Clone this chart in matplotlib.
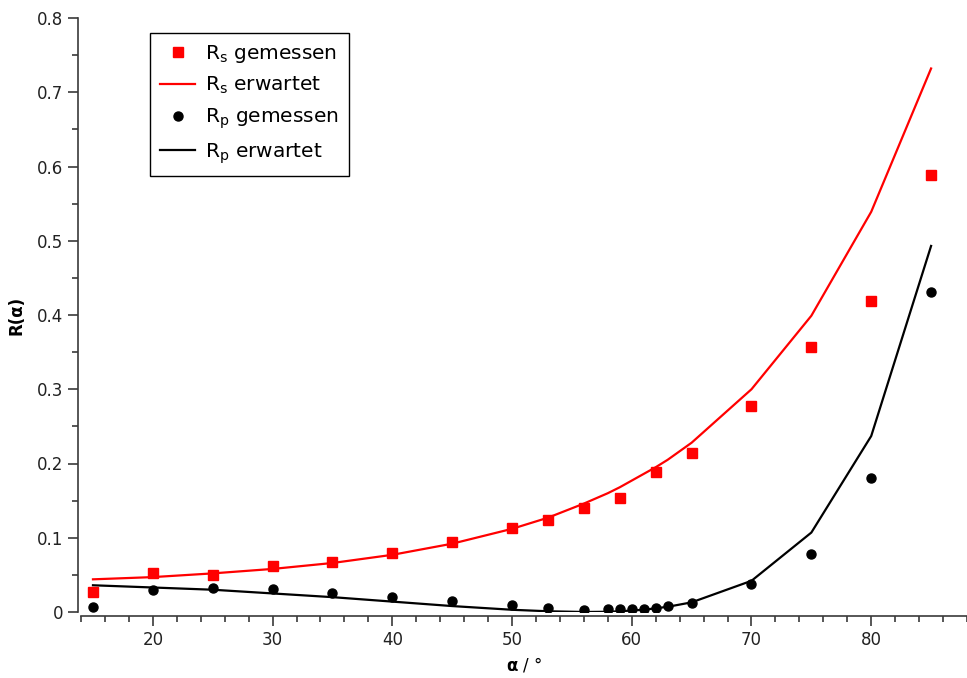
import matplotlib
matplotlib.use("Agg")
import matplotlib.pyplot as plt
from matplotlib.ticker import MultipleLocator

# measured angles (degrees)
angles_s = [15, 20, 25, 30, 35, 40, 45, 50, 53, 56, 59, 62, 65, 70, 75, 80, 85]
rs_measured = [0.027, 0.052, 0.050, 0.062, 0.068, 0.080, 0.094, 0.113, 0.124,
               0.140, 0.154, 0.189, 0.214, 0.277, 0.357, 0.419, 0.589]

angles_p = [15, 20, 25, 30, 35, 40, 45, 50, 53, 56, 58, 59, 60, 61, 62, 63,
            65, 70, 75, 80, 85]
rp_measured = [0.007, 0.030, 0.032, 0.031, 0.025, 0.020, 0.015, 0.009, 0.006,
               0.003, 0.004, 0.004, 0.004, 0.004, 0.006, 0.008, 0.0125, 0.038,
               0.078, 0.181, 0.431]

# expected curves
angles_exp = [15, 20, 25, 30, 35, 40, 45, 50, 53, 56, 58, 59, 60, 61, 62, 63,
              65, 70, 75, 80, 85]
rs_expected = [0.044, 0.047, 0.052, 0.058, 0.066, 0.077, 0.092, 0.112, 0.127,
               0.146, 0.160, 0.168, 0.177, 0.186, 0.195, 0.205, 0.228, 0.300,
               0.399, 0.539, 0.732]
rp_expected = [0.036, 0.033, 0.030, 0.025, 0.020, 0.014, 0.008, 0.003, 0.001,
               0.000, 0.0003, 0.001, 0.002, 0.003, 0.005, 0.007, 0.013, 0.042,
               0.107, 0.237, 0.493]

labels = [r'R$_\mathregular{s}$ gemessen', r'R$_\mathregular{s}$ erwartet',
          r'R$_\mathregular{p}$ gemessen', r'R$_\mathregular{p}$ erwartet']

plt.rcParams['font.family'] = ['DejaVu Sans']
plt.rcParams['mathtext.default'] = 'regular'

fig = plt.figure(figsize=(9.67, 6.78), dpi=100)
ax = fig.add_axes([81 / 967, 66 / 678, 886 / 967, 594 / 678])

ax.plot(angles_s, rs_measured, 's', color='#ff0000', markersize=7, label=labels[0], zorder=3)
ax.plot(angles_exp, rs_expected, '-', color='#ff0000', linewidth=1.6, label=labels[1])
ax.plot(angles_p, rp_measured, 'o', color='black', markersize=6.5, label=labels[2], zorder=3)
ax.plot(angles_exp, rp_expected, '-', color='black', linewidth=1.6, label=labels[3])

ax.set_xlim(14, 88)
ax.set_ylim(0, 0.8)

ax.spines['top'].set_visible(False)
ax.spines['right'].set_visible(False)
spine_col = '#3a3a3a'
ax.spines['left'].set_color(spine_col)
ax.spines['bottom'].set_color(spine_col)
ax.spines['left'].set_linewidth(1.2)
ax.spines['bottom'].set_linewidth(1.2)
ax.spines['left'].set_position(('outward', 2))
ax.spines['bottom'].set_position(('outward', 3))

ax.xaxis.set_minor_locator(MultipleLocator(2))
ax.yaxis.set_minor_locator(MultipleLocator(0.05))
ax.set_xticks([20, 30, 40, 50, 60, 70, 80])
ax.set_yticks([0, 0.1, 0.2, 0.3, 0.4, 0.5, 0.6, 0.7, 0.8])
ax.set_yticklabels(['0', '0.1', '0.2', '0.3', '0.4', '0.5', '0.6', '0.7', '0.8'])

ax.tick_params(axis='both', which='major', length=7, width=1.2, color=spine_col,
               labelsize=12, labelcolor='#222222', pad=4)
ax.tick_params(axis='both', which='minor', length=4, width=1.2, color=spine_col)

ax.set_ylabel('R(α)', fontsize=12, fontweight='bold', labelpad=8)
ax.set_xlabel(r'$\mathbf{α}$ / °', fontsize=12, labelpad=4)

leg = ax.legend(loc='upper left', bbox_to_anchor=(150 / 967, 1 - 33 / 678),
                bbox_transform=fig.transFigure, borderaxespad=0,
                fontsize=14.5, frameon=True, fancybox=False, edgecolor='black',
                framealpha=1, handlelength=1.75, handletextpad=0.5,
                labelspacing=0.5, borderpad=0.5)
leg.get_frame().set_linewidth(1.0)

fig.savefig('out.png', dpi=100)
